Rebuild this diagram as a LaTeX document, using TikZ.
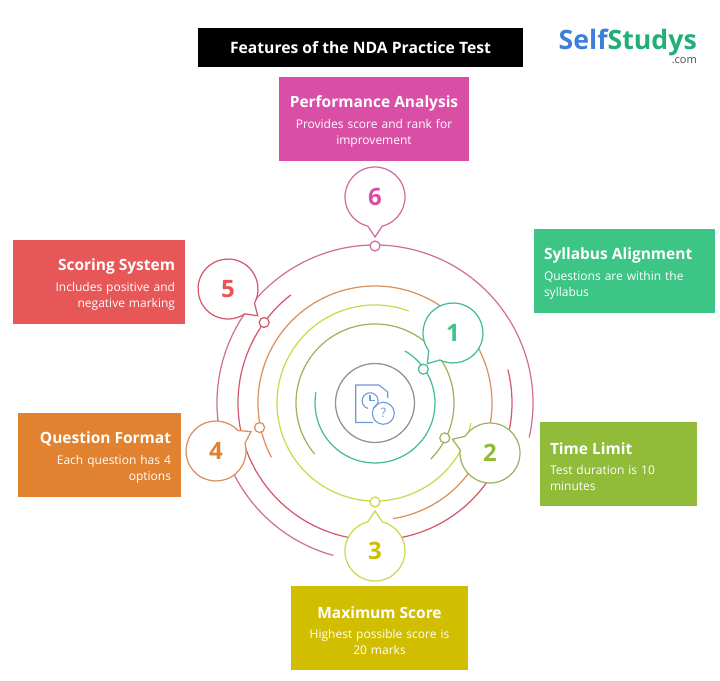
\documentclass[tikz,border=0pt]{standalone}
\usepackage{fontspec}
\setmainfont{Open Sans}
\usetikzlibrary{calc}
\definecolor{perfcol}{HTML}{DA4FA6}
\definecolor{scorecol}{HTML}{E85757}
\definecolor{sylcol}{HTML}{3CC585}
\definecolor{timecol}{HTML}{90BC3A}
\definecolor{maxcol}{HTML}{D2BE00}
\definecolor{quescol}{HTML}{E0822F}
\definecolor{tealring}{HTML}{45BC98}
\definecolor{olivering}{HTML}{9DB45F}
\definecolor{yellowring}{HTML}{CDD84E}
\definecolor{orangering}{HTML}{D9915E}
\definecolor{redring}{HTML}{D4596E}
\definecolor{purplering}{HTML}{CF6FA0}
\definecolor{iconblue}{HTML}{6E97DC}
\definecolor{logoblue}{HTML}{3F7FD9}
\definecolor{logogreen}{HTML}{22AE78}
\tikzstyle{card} = [inner xsep=10pt,inner ysep=0pt,minimum height=84pt,text=white,font=\fontsize{12}{16}\selectfont]
\tikzstyle{ring} = [line width=1.25pt,line cap=round]
\tikzstyle{handle} = [fill=white,shape=circle,line width=1.25pt,inner sep=0pt,minimum size=10pt]
\tikzstyle{bubble} = [fill=white,line width=1.25pt,line join=miter]
\tikzstyle{number} = [font=\fontsize{24}{24}\selectfont\bfseries]
\newcommand{\cardhead}[1]{{\rule{0pt}{17pt}\fontsize{15.5}{21}\selectfont\bfseries #1}\\[4.5pt]}
\newcommand{\bubblenode}[6]{%
\draw[bubble,draw=#4] ($(#2)+(#3+14:30)$) arc (#3+14:#3+346:30) -- ($(#2)+(#3:40)$) -- cycle;
\node[number,text=#5] (#1) at (#2) {#6};}
\begin{document}
\begin{tikzpicture}[x=1pt,y=1pt]
\useasboundingbox (0,0) rectangle (720,680);
\coordinate (ctr) at (375,277);

% rings
\draw[ring,color=purplering] ($(ctr)+(254.6:158)$) arc (254.6:-12.5:158);
\draw[ring,color=redring]    ($(ctr)+(128:137)$) arc (128:374:137);
\draw[ring,color=orangering] ($(ctr)+(-81:117)$) arc (-81:207.5:117);
\draw[ring,color=yellowring] ($(ctr)+(70:98)$) arc (70:348:98);
\draw[ring,color=olivering]  ($(ctr)+(220:79)$) arc (220:-45:79);
\draw[ring,color=tealring]   ($(ctr)+(60:60)$) arc (60:-190:60);

\node[handle,draw=tealring]   (h1) at ($(ctr)+(35:59)$) {};
\node[handle,draw=olivering]  (h2) at ($(ctr)+(-26.6:78)$) {};
\node[handle,draw=yellowring] (h3) at ($(ctr)+(-90:99)$) {};
\node[handle,draw=orangering] (h4) at ($(ctr)+(192:118)$) {};
\node[handle,draw=redring]    (h5) at ($(ctr)+(144:137)$) {};
\node[handle,draw=purplering] (h6) at ($(ctr)+(90:157)$) {};

% bubbles
\bubblenode{b1}{453,347}{230}{tealring}{sylcol}{1}
\bubblenode{b2}{490,227}{160}{olivering}{timecol}{2}
\bubblenode{b3}{375,129}{90}{yellowring}{maxcol}{3}
\bubblenode{b4}{216,229}{29}{orangering}{quescol}{4}
\bubblenode{b5}{228,391}{-42}{redring}{scorecol}{5}
\bubblenode{b6}{375,483}{-90}{purplering}{perfcol}{6}

% icon
\node[draw=gray!85,line width=1.3pt,shape=circle,minimum size=79pt] (hub) at (ctr) {};
\draw[iconblue,line width=1.1pt,line join=round] (373,257.5) -- (355.7,257.5) -- (355.7,295) -- (379,295) -- (387.7,288) -- (387.7,282);
\draw[iconblue,line width=1.1pt] (373.5,272) arc (-65:255:8);
\draw[iconblue,line width=1.1pt] (370,285) -- (370,279.5) -- (375,279.5);
\node[draw=iconblue,line width=1.1pt,shape=circle,minimum size=22pt,inner sep=0pt,text=iconblue,font=\fontsize{13}{13}\selectfont] (qmark) at (383.3,266.7) {?};

% cards
\node[fill=black,text=white,minimum width=325pt,minimum height=39pt,font=\fontsize{15.7}{18}\selectfont\bfseries] (title) at (360.5,632.5) {Features of the NDA Practice Test};
\node[card,fill=perfcol,text width=176pt,inner xsep=7pt,align=center] (perf) at (374,561) {\cardhead{Performance Analysis}Provides score and rank for\\improvement};
\node[card,fill=sylcol,text width=161pt,align=left] (syl) at (624.5,409) {\cardhead{Syllabus Alignment}Questions are within the\\syllabus};
\node[card,fill=timecol,text width=137pt,align=left] (time) at (618.5,216) {\cardhead{Time Limit}Test duration is 10\\minutes};
\node[card,fill=maxcol,text width=157pt,align=center] (max) at (379.5,52) {\cardhead{Maximum Score}Highest possible score is\\20 marks};
\node[card,fill=quescol,text width=143pt,align=right] (ques) at (99.5,225) {\cardhead{Question Format}Each question has 4\\options};
\node[card,fill=scorecol,text width=152pt,align=right] (score) at (99,398) {\cardhead{Scoring System}Includes positive and\\negative marking};

% logo
\node[anchor=base east,inner sep=0pt,font=\fontsize{26.7}{27}\selectfont\bfseries] (logo) at (697,630) {\textcolor{logoblue}{Self}\textcolor{logogreen}{Studys}};
\node[anchor=base east,inner sep=0pt,font=\fontsize{11}{11}\selectfont,text=black!70] (dotcom) at (697,616) {.com};
\end{tikzpicture}
\end{document}
